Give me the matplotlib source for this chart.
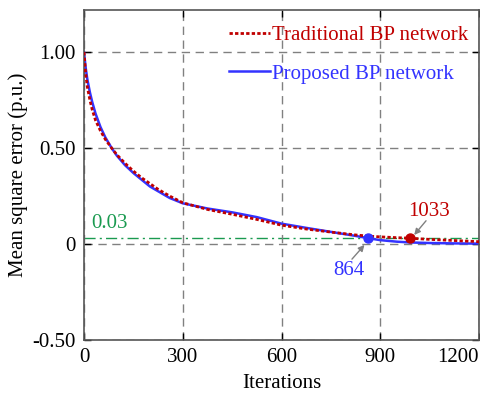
import matplotlib
matplotlib.use('Agg')
import matplotlib.pyplot as plt

plt.rcParams['font.family'] = ['Liberation Serif', 'DejaVu Serif']

red = '#c00000'
blue = '#3333ff'
green = '#1a9a50'
grey = '#808080'

iters = [0, 5, 10, 18, 25, 35, 50, 65, 84, 100, 125, 150, 175, 200, 225, 260,
         300, 375, 450, 525, 600, 675, 750, 825, 864, 900, 950, 990, 1050, 1125, 1200]
mse_proposed = [1.0, 0.92, 0.86, 0.79, 0.74, 0.68, 0.61, 0.555, 0.50, 0.46, 0.41, 0.37,
                0.335, 0.30, 0.275, 0.24, 0.212, 0.185, 0.165, 0.14, 0.106, 0.084,
                0.063, 0.042, 0.03, 0.02, 0.012, 0.008, 0.005, 0.003, 0.002]
mse_traditional = [1.0, 0.89, 0.82, 0.75, 0.70, 0.645, 0.59, 0.545, 0.50, 0.465, 0.42,
                   0.38, 0.345, 0.315, 0.285, 0.25, 0.215, 0.18, 0.155, 0.128, 0.098,
                   0.078, 0.062, 0.047, 0.041, 0.037, 0.033, 0.03, 0.024, 0.018, 0.012]

threshold = 0.03
hit_proposed = (864, 0.03)
hit_traditional = (990, 0.03)

xticks = [0, 300, 600, 900, 1200]
yticks = [-0.5, 0, 0.5, 1.0]
ytick_labels = ['-0.50', '0', '0.50', '1.00']

FS = 15

fig = plt.figure(figsize=(4.8, 3.98), dpi=100)
ax = fig.add_axes([0.175, 0.146, 0.823, 0.829])

ax.plot(iters, mse_traditional, color=red, linestyle=(0, (1.2, 0.8)), lw=2,
        label='Traditional BP network', zorder=3)
ax.plot(iters, mse_proposed, color=blue, lw=1.8, label='Proposed BP network', zorder=2)
ax.axhline(threshold, color=green, lw=1, linestyle=(0, (8, 3, 1.5, 3)), zorder=1)

ax.plot(*hit_proposed, 'o', color=blue, ms=6.5, zorder=4)
ax.plot(*hit_traditional, 'o', color=red, ms=6.5, zorder=4)

arrow = dict(arrowstyle='-|>', color=grey, lw=1, mutation_scale=9, shrinkA=0, shrinkB=0)
ax.annotate('', xy=(852, -0.005), xytext=(814, -0.079), arrowprops=arrow)
ax.annotate('', xy=(1003, 0.047), xytext=(1039, 0.121), arrowprops=arrow)
ax.text(806, -0.137, '864', color=blue, fontsize=FS, ha='center', va='center')
ax.text(1048, 0.168, '1033', color=red, fontsize=FS, ha='center', va='center')
ax.text(22, 0.105, '0.03', color=green, fontsize=FS, ha='left', va='center')

ax.set_xlim(0, 1200)
ax.set_ylim(-0.5, 1.22)
ax.set_xticks(xticks)
ax.set_yticks(yticks)
ax.set_yticklabels(ytick_labels)
ax.get_xticklabels()[-1].set_ha('right')
ax.tick_params(direction='in', top=True, right=True, labelsize=FS, length=5,
               width=1, pad=6)
ax.grid(True, color=grey, linestyle=(0, (6, 4)), lw=1)
for s in ax.spines.values():
    s.set_color('#555555')
    s.set_linewidth(1.2)

ax.set_xlabel('Iterations', fontsize=FS, labelpad=5)
ax.set_ylabel('Mean square error (p.u.)', fontsize=FS, labelpad=3)

ax.legend(loc='upper right', bbox_to_anchor=(1.005, 0.99), frameon=False,
          fontsize=FS, labelcolor='linecolor', handlelength=2.0,
          handletextpad=0.1, labelspacing=0.9, borderaxespad=0.2)

fig.savefig('out.png', dpi=100)
